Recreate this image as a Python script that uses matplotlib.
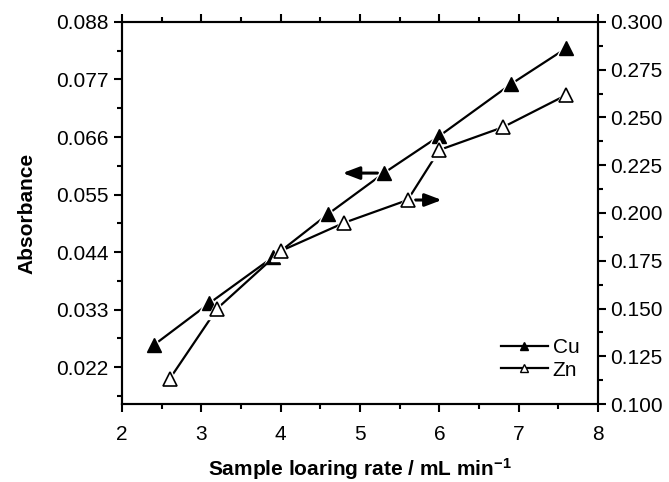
import matplotlib
matplotlib.use("Agg")
import matplotlib.pyplot as plt
from matplotlib.lines import Line2D
from matplotlib.ticker import MultipleLocator, FixedLocator, FormatStrFormatter

plt.rcParams['font.family'] = ['Liberation Sans', 'DejaVu Sans']
plt.rcParams['mathtext.fontset'] = 'custom'
plt.rcParams['mathtext.rm'] = 'Liberation Sans'
plt.rcParams['mathtext.bf'] = 'Liberation Sans:bold'
plt.rcParams['mathtext.it'] = 'Liberation Sans:italic'

# Data
cu_x = [2.4, 3.1, 3.9, 4.6, 5.3, 6.0, 6.9, 7.6]
cu_y = [0.0262, 0.0342, 0.0430, 0.0513, 0.0591, 0.0662, 0.0761, 0.0830]
zn_x = [2.6, 3.2, 4.0, 4.8, 5.6, 6.0, 6.8, 7.6]
zn_y = [0.1131, 0.150, 0.1801, 0.1949, 0.2068, 0.233, 0.2449, 0.2618]
left_ticks = [0.022, 0.033, 0.044, 0.055, 0.066, 0.077, 0.088]
right_ticks = [0.100, 0.125, 0.150, 0.175, 0.200, 0.225, 0.250, 0.275, 0.300]

fig = plt.figure(figsize=(6.69, 4.82), dpi=100)
ax = fig.add_axes([0.1824, 0.1618, 0.894 - 0.1824, 0.9544 - 0.1618])
ax2 = ax.twinx()

lw = 1.6
ms = 9.5
# Cu on left axis
ax.plot(cu_x, cu_y, color='black', lw=lw, zorder=2)
ax.plot(cu_x, cu_y, ls='none', marker='^', ms=ms + 5, mfc='white', mec='white', zorder=3)
ax.plot(cu_x, cu_y, ls='none', marker='^', ms=ms, mfc='black', mec='black', zorder=4)
# Zn on right axis
ax2.plot(zn_x, zn_y, color='black', lw=lw, zorder=2)
ax2.plot(zn_x, zn_y, ls='none', marker='^', ms=ms + 5, mfc='white', mec='white', zorder=3)
ax2.plot(zn_x, zn_y, ls='none', marker='^', ms=ms, mfc='white', mec='black', mew=1.2, zorder=4)

# Axis-indicating arrows
ax.annotate('', xy=(4.78, cu_y[4]), xytext=(5.22, cu_y[4]),
            arrowprops=dict(arrowstyle='-|>,head_length=1.0,head_width=0.38', color='black', lw=2.2,
                            shrinkA=0, shrinkB=0), zorder=1)
ax2.annotate('', xy=(6.03, zn_y[4]), xytext=(5.7, zn_y[4]),
             arrowprops=dict(arrowstyle='-|>,head_length=1.0,head_width=0.38', color='black', lw=2.2,
                             shrinkA=0, shrinkB=0), zorder=1)

ax.set_xlim(2, 8)
ax.set_ylim(0.01493, 0.088)
ax2.set_ylim(0.100, 0.300)

ax.xaxis.set_major_locator(MultipleLocator(1))
ax.xaxis.set_minor_locator(MultipleLocator(0.5))
ax.yaxis.set_major_locator(FixedLocator(left_ticks))
ax.yaxis.set_minor_locator(FixedLocator([t - 0.0055 for t in left_ticks] + [left_ticks[-1] + 0.0055]))
ax.yaxis.set_major_formatter(FormatStrFormatter('%.3f'))
ax2.yaxis.set_major_locator(FixedLocator(right_ticks))
ax2.yaxis.set_minor_locator(MultipleLocator(0.0125))
ax2.yaxis.set_major_formatter(FormatStrFormatter('%.3f'))

fs = 15
for a in (ax, ax2):
    for s in a.spines.values():
        s.set_linewidth(1.5)
ax.tick_params(axis='both', which='major', direction='out', length=6, width=1.5, labelsize=fs, pad=4)
ax.tick_params(axis='both', which='minor', direction='out', length=3.5, width=1.5)
ax.tick_params(axis='x', which='major', pad=9)
ax.tick_params(axis='x', which='both', top=True, labeltop=False)
ax2.tick_params(axis='y', which='major', direction='out', length=6, width=1.5, labelsize=fs, pad=3)
ax2.tick_params(axis='y', which='minor', direction='out', length=3.5, width=1.5)

ax.set_ylabel('Absorbance', fontsize=fs, fontweight='bold', labelpad=14)
ax.set_xlabel(r'Sample loaring rate / mL min$^{\mathbf{-1}}$', fontsize=fs, fontweight='bold', labelpad=9)

handles = [Line2D([], [], color='black', lw=lw, marker='^', ms=6, mfc='black', mec='black'),
           Line2D([], [], color='black', lw=lw, marker='^', ms=6, mfc='white', mec='black')]
ax.legend(handles, ['Cu', 'Zn'], loc='lower right', bbox_to_anchor=(1.0, 0.015), frameon=False,
          fontsize=fs, handlelength=2.3, handletextpad=0.2, labelspacing=0.15)

fig.savefig('out.png', dpi=100)
